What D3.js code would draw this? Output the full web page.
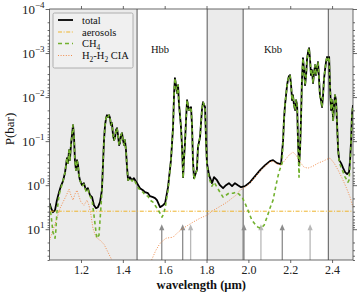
<!DOCTYPE html>
<html>
<head>
<meta charset="utf-8">
<script src="https://cdn.jsdelivr.net/npm/d3@7"></script>
<style>
  body { margin: 0; background: #fff; }
  svg { display: block; font-family: "Liberation Serif", "DejaVu Serif", serif; }
</style>
</head>
<body>
<div id="chart"></div>
<script>
// [wavelength (um), pressure (bar)]
const total = [[1.05,2.57],[1.057,3.33],[1.066,4.11],[1.076,3.70],[1.085,2.19],[1.095,1.44],[1.104,1.05],[1.114,0.81],[1.124,0.507],[1.133,0.243],[1.138,0.316],[1.143,0.160],[1.147,0.270],[1.152,0.123],[1.157,0.073],[1.162,0.0433],[1.167,0.0855],[1.171,0.270],[1.176,0.456],[1.181,0.270],[1.186,0.351],[1.190,0.593],[1.195,0.770],[1.205,1.0],[1.214,0.90],[1.224,1.30],[1.233,1.17],[1.243,1.69],[1.253,1.87],[1.262,2.85],[1.272,3.33],[1.281,3.16],[1.291,2.43],[1.300,1.30],[1.305,0.351],[1.310,0.095],[1.315,0.0433],[1.320,0.030],[1.324,0.0257],[1.329,0.0285],[1.334,0.0257],[1.339,0.030],[1.343,0.0433],[1.348,0.039],[1.353,0.073],[1.358,0.095],[1.363,0.081],[1.367,0.0562],[1.372,0.0507],[1.377,0.073],[1.382,0.123],[1.386,0.111],[1.391,0.073],[1.396,0.0658],[1.401,0.095],[1.406,0.123],[1.410,0.095],[1.415,0.160],[1.420,0.390],[1.425,0.770],[1.434,0.658],[1.444,0.770],[1.453,0.693],[1.468,0.90],[1.482,1.17],[1.496,1.30],[1.506,1.44],[1.520,1.52],[1.530,1.78],[1.544,1.87],[1.554,1.97],[1.563,2.19],[1.578,3.16],[1.592,2.85],[1.602,2.57],[1.616,1.11],[1.630,0.270],[1.640,0.048],[1.645,0.0081],[1.649,0.0037],[1.654,0.00534],[1.659,0.0081],[1.664,0.00534],[1.668,0.0137],[1.678,0.048],[1.683,0.137],[1.688,0.658],[1.692,0.270],[1.697,0.111],[1.702,0.0333],[1.707,0.0117],[1.716,0.0197],[1.726,0.0169],[1.731,0.048],[1.735,0.270],[1.740,0.693],[1.750,0.507],[1.754,0.456],[1.759,0.137],[1.769,0.081],[1.778,0.0197],[1.783,0.0130],[1.793,0.0169],[1.798,0.111],[1.802,0.316],[1.812,0.593],[1.826,0.90],[1.836,0.658],[1.850,0.770],[1.864,1.0],[1.879,1.17],[1.893,1.0],[1.907,0.90],[1.922,1.05],[1.936,0.90],[1.950,1.0],[1.965,1.11],[1.984,1.05],[2.008,0.855],[2.032,0.624],[2.056,0.456],[2.080,0.351],[2.103,0.285],[2.118,0.270],[2.137,0.316],[2.156,0.333],[2.166,0.095],[2.170,0.0333],[2.175,0.0152],[2.180,0.0090],[2.185,0.00534],[2.189,0.00411],[2.194,0.00333],[2.199,0.00316],[2.204,0.00534],[2.209,0.0117],[2.213,0.0090],[2.218,0.0152],[2.223,0.0197],[2.228,0.0117],[2.233,0.0152],[2.237,0.095],[2.242,0.351],[2.247,0.160],[2.252,0.0257],[2.256,0.00411],[2.261,0.0013],[2.266,0.00243],[2.271,0.00534],[2.276,0.00316],[2.280,0.00144],[2.285,0.00095],[2.290,0.00077],[2.295,0.00144],[2.299,0.00316],[2.304,0.00243],[2.309,0.00481],[2.314,0.0027],[2.319,0.00187],[2.323,0.00316],[2.328,0.00219],[2.333,0.0016],[2.338,0.00411],[2.342,0.0090],[2.347,0.0117],[2.352,0.0169],[2.357,0.0090],[2.361,0.00411],[2.366,0.00243],[2.371,0.0016],[2.376,0.00123],[2.381,0.00144],[2.386,0.00123],[2.390,0.00534],[2.395,0.0197],[2.400,0.0117],[2.405,0.0333],[2.410,0.0152],[2.414,0.0090],[2.419,0.0117],[2.424,0.0433],[2.429,0.160],[2.434,0.270],[2.443,0.316],[2.453,0.411],[2.462,0.507],[2.472,0.562],[2.481,0.507],[2.486,0.270],[2.491,0.095],[2.495,0.0257],[2.500,0.0152]];

const ch4 = [[1.05,2.85],[1.057,4.81],[1.066,11.7],[1.076,16.0],[1.080,10.5],[1.085,4.11],[1.095,1.69],[1.104,1.17],[1.114,0.81],[1.124,0.507],[1.133,0.243],[1.138,0.316],[1.143,0.160],[1.147,0.270],[1.152,0.123],[1.157,0.073],[1.162,0.0433],[1.167,0.0855],[1.171,0.270],[1.176,0.456],[1.181,0.270],[1.186,0.351],[1.190,0.593],[1.195,0.770],[1.205,1.05],[1.214,0.95],[1.224,1.37],[1.233,1.23],[1.243,1.78],[1.253,2.19],[1.262,4.81],[1.272,11.7],[1.276,16.0],[1.286,13.7],[1.291,6.24],[1.296,2.85],[1.300,1.44],[1.305,0.351],[1.310,0.095],[1.315,0.0433],[1.320,0.030],[1.324,0.0257],[1.329,0.0285],[1.334,0.0257],[1.339,0.030],[1.343,0.0433],[1.348,0.039],[1.353,0.073],[1.358,0.095],[1.363,0.081],[1.367,0.0562],[1.372,0.0507],[1.377,0.073],[1.382,0.123],[1.386,0.111],[1.391,0.073],[1.396,0.0658],[1.401,0.095],[1.406,0.123],[1.410,0.095],[1.415,0.160],[1.420,0.390],[1.425,0.770],[1.434,0.70],[1.444,0.81],[1.453,0.73],[1.468,1.05],[1.482,1.30],[1.496,1.44],[1.506,1.69],[1.520,1.78],[1.530,2.19],[1.544,2.43],[1.554,2.85],[1.563,3.33],[1.578,4.33],[1.587,5.34],[1.592,4.81],[1.602,3.33],[1.616,1.30],[1.630,0.270],[1.640,0.048],[1.645,0.0081],[1.649,0.0037],[1.654,0.00534],[1.659,0.0081],[1.664,0.00534],[1.668,0.0137],[1.678,0.048],[1.683,0.137],[1.688,0.693],[1.692,0.270],[1.697,0.111],[1.702,0.0333],[1.707,0.0117],[1.716,0.0197],[1.726,0.0169],[1.731,0.048],[1.735,0.270],[1.740,0.75],[1.750,0.507],[1.754,0.456],[1.759,0.137],[1.769,0.081],[1.778,0.0197],[1.783,0.0130],[1.793,0.0169],[1.798,0.111],[1.802,0.351],[1.812,0.693],[1.826,1.05],[1.836,0.855],[1.850,1.11],[1.864,1.44],[1.879,1.87],[1.893,1.69],[1.907,1.52],[1.927,1.52],[1.941,1.44],[1.955,1.60],[1.970,1.87],[1.984,2.57],[1.998,3.70],[2.017,6.24],[2.032,7.7],[2.046,9.0],[2.060,9.5],[2.075,8.11],[2.089,5.34],[2.103,3.33],[2.118,2.19],[2.132,1.0],[2.146,0.507],[2.161,0.316],[2.166,0.095],[2.170,0.0333],[2.175,0.0152],[2.180,0.0090],[2.185,0.00534],[2.189,0.00411],[2.194,0.00333],[2.199,0.00316],[2.204,0.00534],[2.209,0.0117],[2.213,0.0090],[2.218,0.0152],[2.223,0.0197],[2.228,0.0117],[2.233,0.0152],[2.237,0.095],[2.242,0.658],[2.247,0.160],[2.252,0.0257],[2.256,0.00411],[2.261,0.0013],[2.266,0.00243],[2.271,0.00534],[2.276,0.00316],[2.280,0.00144],[2.285,0.00095],[2.290,0.00077],[2.295,0.00144],[2.299,0.00316],[2.304,0.00243],[2.309,0.00481],[2.314,0.0027],[2.319,0.00187],[2.323,0.00316],[2.328,0.00219],[2.333,0.0016],[2.338,0.00411],[2.342,0.0090],[2.347,0.0117],[2.352,0.0169],[2.357,0.0090],[2.361,0.00411],[2.366,0.00243],[2.371,0.0016],[2.376,0.00123],[2.381,0.00144],[2.386,0.00123],[2.390,0.00534],[2.395,0.0197],[2.400,0.0117],[2.405,0.0333],[2.410,0.0152],[2.414,0.0090],[2.419,0.0117],[2.424,0.0433],[2.429,0.160],[2.434,0.30],[2.443,0.39],[2.453,0.507],[2.462,0.658],[2.472,0.77],[2.476,0.855],[2.481,0.77],[2.486,0.351],[2.491,0.095],[2.495,0.0257],[2.500,0.0152]];

const cia = [[1.05,17.8],[1.066,10.5],[1.085,5.62],[1.100,3.33],[1.114,2.43],[1.128,1.78],[1.143,1.23],[1.152,1.69],[1.162,2.19],[1.171,1.60],[1.181,1.30],[1.190,1.78],[1.200,2.43],[1.214,2.85],[1.229,2.19],[1.238,2.85],[1.248,4.81],[1.257,9.5],[1.272,15.2],[1.291,17.8],[1.310,21.9],[1.329,33.3],[1.348,50.7],[1.367,85],[1.530,69],[1.539,48],[1.558,30],[1.578,20.8],[1.606,16.0],[1.640,15.2],[1.664,11.7],[1.688,9.5],[1.712,8.11],[1.735,6.93],[1.769,5.62],[1.802,4.81],[1.826,3.9],[1.850,3.33],[1.874,2.85],[1.898,2.43],[1.922,1.97],[1.941,1.69],[1.960,1.30],[1.984,1.11],[2.008,0.90],[2.032,0.658],[2.056,0.481],[2.080,0.370],[2.103,0.30],[2.118,0.285],[2.137,0.333],[2.156,0.351],[2.175,0.270],[2.194,0.208],[2.213,0.178],[2.228,0.208],[2.247,0.30],[2.266,0.39],[2.285,0.411],[2.309,0.370],[2.333,0.316],[2.357,0.285],[2.376,0.257],[2.390,0.243],[2.410,0.316],[2.429,0.456],[2.448,0.693],[2.467,1.11],[2.486,1.87],[2.500,3.2]];

const aerosols = [[1.05,3.9],[2.5,3.9]];

const shadedBands = [[1.05,1.468],[1.803,1.975],[2.382,2.5]];
const bandEdges = [1.468,1.803,1.975,2.382];
const arrowWl = [1.586,1.686,1.724,1.979,2.060,2.162,2.295];
const arrowDark = [true,true,false,true,false,true,false];
const arrowTipP = 7.7;

const xTicks = [1.2,1.4,1.6,1.8,2.0,2.2,2.4];
const yTicks = [1e-4,1e-3,1e-2,1e-1,1,10];
const bandLabels = [{text:"Hbb", wl:1.578, p:1.0e-3}, {text:"Kbb", wl:2.118, p:1.0e-3}];

const W = 357, H = 295;
const plotL = 49.6, plotR = 353, plotT = 9, plotB = 260;

const svg = d3.select("#chart").append("svg")
  .attr("width", W).attr("height", H)
  .attr("viewBox", [0, 0, W, H]);

const x = d3.scaleLinear().domain([1.05, 2.5]).range([plotL, plotR]);
const y = d3.scaleLog().domain([1e-4, 50]).range([plotT, plotB]);

svg.append("defs").append("clipPath").attr("id", "plot-clip")
  .append("rect").attr("x", plotL).attr("y", plotT)
  .attr("width", plotR - plotL).attr("height", plotB - plotT);

const plot = svg.append("g").attr("clip-path", "url(#plot-clip)");

// shaded bands
plot.selectAll("rect.band").data(shadedBands).join("rect")
  .attr("class", "band")
  .attr("x", d => x(d[0])).attr("y", plotT)
  .attr("width", d => x(d[1]) - x(d[0])).attr("height", plotB - plotT)
  .attr("fill", "#ebebeb");

plot.selectAll("line.edge").data(bandEdges).join("line")
  .attr("class", "edge")
  .attr("x1", d => x(d)).attr("x2", d => x(d))
  .attr("y1", plotT).attr("y2", plotB)
  .attr("stroke", "#555").attr("stroke-width", 1);

// arrows
const arrows = plot.selectAll("g.arrow").data(arrowWl).join("g").attr("class", "arrow");
arrows.append("line")
  .attr("x1", d => x(d)).attr("x2", d => x(d))
  .attr("y1", plotB).attr("y2", y(arrowTipP) + 5)
  .attr("stroke", (d, i) => arrowDark[i] ? "#8c8c8c" : "#b8b8b8")
  .attr("stroke-width", 1.3);
arrows.append("path")
  .attr("d", d => {
    const cx = x(d), ty = y(arrowTipP);
    return `M${cx},${ty}L${cx - 2.6},${ty + 6}L${cx + 2.6},${ty + 6}Z`;
  })
  .attr("fill", (d, i) => arrowDark[i] ? "#8c8c8c" : "#b8b8b8");

const line = d3.line().x(d => x(d[0])).y(d => y(d[1]));

plot.append("path").datum(total)
  .attr("fill", "none").attr("stroke", "#000").attr("stroke-width", 1.8)
  .attr("stroke-linejoin", "round").attr("d", line);

plot.append("path").datum(cia)
  .attr("fill", "none").attr("stroke", "#f08c4c").attr("stroke-width", 1)
  .attr("stroke-dasharray", "1,1.6").attr("d", line);

plot.append("path").datum(aerosols)
  .attr("fill", "none").attr("stroke", "#efb52e").attr("stroke-width", 1)
  .attr("stroke-dasharray", "4,1.6,1,1.6").attr("d", line);

plot.append("path").datum(ch4)
  .attr("fill", "none").attr("stroke", "#72b12e").attr("stroke-width", 1.6)
  .attr("stroke-dasharray", "3.5,3").attr("stroke-linejoin", "round").attr("d", line);

// band labels
svg.selectAll("text.band-label").data(bandLabels).join("text")
  .attr("class", "band-label")
  .attr("x", d => x(d.wl)).attr("y", d => y(d.p))
  .attr("text-anchor", "middle")
  .attr("font-size", 10.5).attr("fill", "#111")
  .text(d => d.text);

// frame
svg.append("rect")
  .attr("x", plotL).attr("y", plotT).attr("width", plotR - plotL).attr("height", plotB - plotT)
  .attr("fill", "none").attr("stroke", "#444").attr("stroke-width", 0.8);

// axes
const minorY = [];
for (let k = -4; k <= 1; k++) {
  for (let m = 2; m <= 9; m++) {
    const v = m * Math.pow(10, k);
    if (v <= 50) minorY.push(v);
  }
}

function styleAxis(g) {
  g.select(".domain").remove();
  g.selectAll(".tick line").attr("stroke", "#444").attr("stroke-width", 0.8);
}

svg.append("g").attr("transform", `translate(0,${plotB})`)
  .call(d3.axisBottom(x).tickValues(xTicks).tickSize(3).tickPadding(2).tickFormat(d3.format(".1f")))
  .call(styleAxis)
  .call(g => g.selectAll(".tick text")
    .attr("font-family", "Liberation Serif, serif")
    .attr("font-size", 12).attr("fill", "#222"));

svg.append("g").attr("transform", `translate(0,${plotT})`)
  .call(d3.axisTop(x).tickValues(xTicks).tickSize(3).tickFormat(""))
  .call(styleAxis);

svg.append("g").attr("transform", `translate(${plotL},0)`)
  .call(d3.axisLeft(y).tickValues(yTicks).tickSize(4).tickPadding(3).tickFormat(""))
  .call(styleAxis)
  .call(g => g.selectAll(".tick").each(function (d) {
    const exp = Math.round(Math.log10(d));
    const t = d3.select(this).select("text")
      .attr("font-family", "Liberation Serif, serif")
      .attr("font-size", 13).attr("fill", "#222")
      .attr("dy", null).attr("y", 4).attr("x", -5);
    t.append("tspan").text("10");
    t.append("tspan").attr("dy", -5.5).attr("font-size", 9)
      .text(exp < 0 ? "\u2212" + (-exp) : String(exp));
  }));

svg.append("g").attr("transform", `translate(${plotL},0)`)
  .call(d3.axisLeft(y).tickValues(minorY).tickSize(2).tickFormat(""))
  .call(styleAxis);

svg.append("g").attr("transform", `translate(${plotR},0)`)
  .call(d3.axisRight(y).tickValues(yTicks).tickSize(4).tickFormat(""))
  .call(styleAxis);

svg.append("g").attr("transform", `translate(${plotR},0)`)
  .call(d3.axisRight(y).tickValues(minorY).tickSize(2).tickFormat(""))
  .call(styleAxis);

// axis labels
svg.append("text")
  .attr("x", (plotL + plotR) / 2).attr("y", 289)
  .attr("text-anchor", "middle").attr("font-size", 12.5).attr("font-weight", "bold")
  .attr("fill", "#111")
  .text("wavelength (\u03bcm)");

svg.append("text")
  .attr("transform", "translate(14,129) rotate(-90)")
  .attr("text-anchor", "middle").attr("font-size", 13)
  .attr("fill", "#111")
  .text("P(bar)");

// legend
const legendItems = [
  { key: "total", stroke: "#000", width: 1.8, dash: null },
  { key: "aerosols", stroke: "#efb52e", width: 1, dash: "4,1.6,1,1.6" },
  { key: "ch4", stroke: "#72b12e", width: 1.6, dash: "4,3" },
  { key: "cia", stroke: "#f08c4c", width: 1, dash: "1,1.6" }
];
const legendRowY = [20, 32, 43.5, 55.5];

const legend = svg.append("g");
legend.append("rect")
  .attr("x", 53).attr("y", 13).attr("width", 80).attr("height", 55).attr("rx", 1.5)
  .attr("fill", "#f0f0f0").attr("stroke", "#a0a0a0").attr("stroke-width", 0.8);

legendItems.forEach((item, i) => {
  const ly = legendRowY[i];
  legend.append("line")
    .attr("x1", 58).attr("x2", 73).attr("y1", ly).attr("y2", ly)
    .attr("stroke", item.stroke).attr("stroke-width", item.width)
    .attr("stroke-dasharray", item.dash);
  const t = legend.append("text")
    .attr("x", 82).attr("y", ly + 3.5).attr("font-size", 10.5).attr("fill", "#111");
  if (item.key === "total") t.text("total");
  else if (item.key === "aerosols") t.text("aerosols");
  else if (item.key === "ch4") {
    t.append("tspan").text("CH");
    t.append("tspan").attr("font-size", 7.5).attr("dy", 2.5).text("4");
  } else {
    t.append("tspan").text("H");
    t.append("tspan").attr("font-size", 7.5).attr("dy", 2.5).text("2");
    t.append("tspan").attr("dy", -2.5).text("-H");
    t.append("tspan").attr("font-size", 7.5).attr("dy", 2.5).text("2");
    t.append("tspan").attr("dy", -2.5).text(" CIA");
  }
});
</script>
</body>
</html>
